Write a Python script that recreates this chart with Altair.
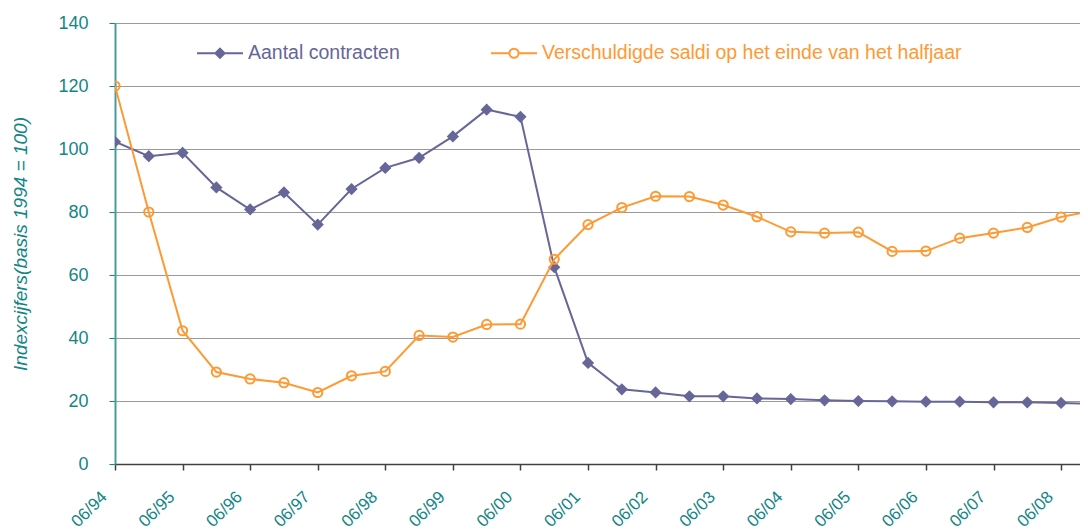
import json
import altair as alt
import pandas as pd

# ---- data ----
periods = [
    "06/94", "12/94", "06/95", "12/95", "06/96", "12/96", "06/97", "12/97",
    "06/98", "12/98", "06/99", "12/99", "06/00", "12/00", "06/01", "12/01",
    "06/02", "12/02", "06/03", "12/03", "06/04", "12/04", "06/05", "12/05",
    "06/06", "12/06", "06/07", "12/07", "06/08", "12/08",
]
year_labels = [
    "06/94", "06/95", "06/96", "06/97", "06/98", "06/99", "06/00", "06/01",
    "06/02", "06/03", "06/04", "06/05", "06/06", "06/07", "06/08",
]
aantal = [
    102.3, 97.7, 98.8, 87.8, 80.8, 86.2, 76.0, 87.3, 94.0, 97.2,
    104.0, 112.5, 110.2, 62.5, 32.1, 23.7, 22.7, 21.5, 21.5, 20.8,
    20.6, 20.2, 20.0, 19.9, 19.8, 19.8, 19.6, 19.6, 19.4, 19.0,
]
saldi = [
    120.0, 80.0, 42.3, 29.2, 27.0, 25.8, 22.7, 28.0, 29.4, 40.8,
    40.3, 44.3, 44.4, 65.0, 76.0, 81.4, 85.0, 84.9, 82.2, 78.5,
    73.7, 73.3, 73.6, 67.5, 67.6, 71.7, 73.3, 75.1, 78.4, 80.5,
]
names = ["Aantal contracten", "Verschuldigde saldi op het einde van het halfjaar"]

PURPLE = "#666699"
ORANGE = "#FF9933"
TEAL = "#128585"
FONT = "Liberation Sans"

rows = []
for i, p in enumerate(periods):
    rows.append({"t": i, "periode": p, "series": names[0], "value": aantal[i]})
    rows.append({"t": i, "periode": p, "series": names[1], "value": saldi[i]})
df = pd.DataFrame(rows)

x_enc = alt.X(
    "t:Q",
    title=None,
    scale=alt.Scale(domain=[0, 28.56], nice=False, zero=False),
    axis=alt.Axis(
        values=list(range(0, 29, 2)),
        labelExpr=json.dumps(year_labels) + "[datum.value / 2]",
        labelAngle=315,
        labelAlign="right",
        labelBaseline="middle",
        labelOffset=-11,
        labelPadding=24,
        labelFont=FONT,
        labelFontSize=17,
        labelColor=TEAL,
        labelOverlap=False,
        labelFlush=False,
        grid=False,
        tickSize=6,
        tickColor="#404040",
        tickWidth=1.5,
        domainColor="#404040",
        domainWidth=1.5,
    ),
)
y_enc = alt.Y(
    "value:Q",
    title="Indexcijfers(basis 1994 = 100)",
    scale=alt.Scale(domain=[0, 140], nice=False),
    axis=alt.Axis(
        values=list(range(0, 141, 20)),
        labelFont=FONT,
        labelFontSize=18,
        labelColor=TEAL,
        labelPadding=21,
        tickSize=6,
        tickColor=TEAL,
        tickWidth=1,
        domainColor="#4a9c9c",
        domainWidth=2,
        grid=True,
        gridColor="#9a9a9a",
        gridWidth=1,
        titleFont=FONT,
        titleFontSize=19,
        titleFontStyle="italic",
        titleFontWeight="normal",
        titleColor=TEAL,
        titlePadding=27,
    ),
)

base = alt.Chart(df).encode(x=x_enc, y=y_enc)

s0 = alt.datum.series == names[0]
s1 = alt.datum.series == names[1]

line0 = base.transform_filter(s0).mark_line(color=PURPLE, strokeWidth=2, clip=True)
pts0 = base.transform_filter(s0).mark_point(
    shape="diamond", filled=True, color=PURPLE, size=150, opacity=1, clip=True
)
line1 = base.transform_filter(s1).mark_line(color=ORANGE, strokeWidth=2, clip=True)
pts1 = base.transform_filter(s1).mark_point(
    shape="circle", filled=False, color=ORANGE, size=85, strokeWidth=2, opacity=1, clip=True
)

legend_paths = [
    "M-1,0H1M0,-0.2L0.2,0L0,0.2L-0.2,0Z",
    "M-1,0H-0.2M0.2,0H1M-0.2,0A0.2,0.2 0 1,0 0.2,0A0.2,0.2 0 1,0 -0.2,0Z",
]
label_color_expr = f"datum.value === '{names[0]}' ? '{PURPLE}' : '{ORANGE}'"
leg = alt.Legend(
    orient="none",
    legendX=81,
    legendY=6,
    direction="horizontal",
    title=None,
    padding=0,
    symbolOpacity=1,
    symbolStrokeWidth=2,
    symbolSize=2116,
    labelFont=FONT,
    labelFontSize=19.5,
    labelColor={"expr": label_color_expr},
    labelOffset=4,
    labelLimit=1000,
    columnPadding=87,
)
legend_layer = base.mark_point(filled=True, size=2116, opacity=0, strokeWidth=2, clip=True).encode(
    stroke=alt.Stroke("series:N", scale=alt.Scale(domain=names, range=[PURPLE, ORANGE]), legend=leg),
    fill=alt.Fill("series:N", scale=alt.Scale(domain=names, range=[PURPLE, "white"]), legend=leg),
    shape=alt.Shape("series:N", scale=alt.Scale(domain=names, range=legend_paths), legend=leg),
)

chart = (
    alt.layer(line0, pts0, line1, pts1, legend_layer)
    .properties(
        width=965,
        height=441,
        autosize=alt.AutoSizeParams(type="none"),
        padding={"left": 107, "top": 15, "right": 0, "bottom": 66},
        background="white",
    )
    .configure_view(stroke=None)
)

chart.save("out.html", embed_options={"renderer": "svg", "actions": False})
